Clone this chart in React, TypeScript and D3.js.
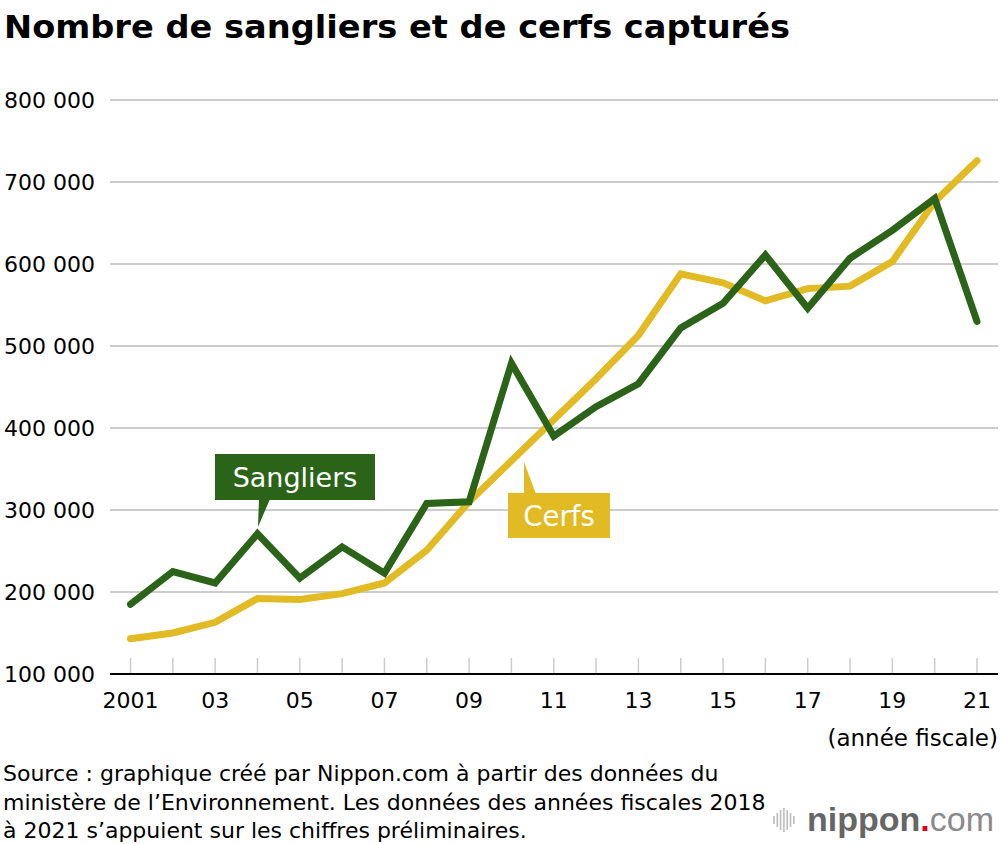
import React from "react";
import * as d3 from "d3";

// Fiscal years and captures
const years = d3.range(2001, 2022);
const sangliers = [
  185000, 225000, 211000, 271000, 217000, 255000, 223000, 308000, 310000, 479000, 390000,
  426000, 454000, 522000, 552000, 611000, 546000, 607000, 641000, 680000, 530000,
];
const cerfs = [
  143000, 150000, 163000, 192000, 191000, 198000, 211000, 251000, 310000, 360000, 410000,
  460000, 513000, 588000, 577000, 555000, 570000, 573000, 603000, 676000, 726000,
];
const yTicks = [100000, 200000, 300000, 400000, 500000, 600000, 700000, 800000];
const xTickLabels = ["2001", "03", "05", "07", "09", "11", "13", "15", "17", "19", "21"];
const sourceLines = [
  "Source : graphique créé par Nippon.com à partir des données du",
  "ministère de l’Environnement. Les données des années fiscales 2018",
  "à 2021 s’appuient sur les chiffres préliminaires.",
];

const GREEN = "#2b6419";
const YELLOW = "#e1ba24";
const FONT = "'DejaVu Sans', 'Liberation Sans', Arial, sans-serif";

const W = 1000;
const H = 844;

export default function App() {
  const x = d3.scaleLinear().domain([2001, 2021]).range([130.5, 977]);
  const y = d3.scaleLinear().domain([100000, 800000]).range([674, 100]);
  const fmt = (v: number) => d3.format(",")(v).replace(/,/g, " ");

  const line = d3
    .line<number>()
    .x((_, i) => x(years[i]))
    .y((d) => y(d));

  const gridLeft = 110;
  const gridRight = 998;

  return (
    <svg
      width={W}
      height={H}
      style={{ position: "absolute", left: 0, top: 0, background: "#fff" }}
      fontFamily={FONT}
    >
      <text x={4} y={38} fontSize={32} fontWeight="bold" fill="#000" textLength={786} lengthAdjust="spacingAndGlyphs">
        Nombre de sangliers et de cerfs capturés
      </text>

      {/* grid */}
      {yTicks.slice(1).map((t) => (
        <line key={t} x1={gridLeft} x2={gridRight} y1={y(t)} y2={y(t)} stroke="#cccccc" strokeWidth={2} />
      ))}
      {yTicks.map((t) => (
        <text key={"l" + t} x={95} y={y(t) + 8} fontSize={22} textAnchor="end" fill="#000">
          {fmt(t)}
        </text>
      ))}

      {/* x ticks */}
      {years.map((yr) => (
        <line key={yr} x1={x(yr)} x2={x(yr)} y1={658} y2={673} stroke="#cccccc" strokeWidth={1.5} />
      ))}
      <line x1={gridLeft} x2={gridRight} y1={y(100000)} y2={y(100000)} stroke="#000" strokeWidth={2} />
      {xTickLabels.map((lab, i) => (
        <text key={lab} x={x(2001 + i * 2)} y={708} fontSize={22} textAnchor="middle" fill="#000">
          {lab}
        </text>
      ))}
      <text x={998} y={746} fontSize={23} textAnchor="end" fill="#000">
        (année fiscale)
      </text>

      {/* series */}
      <path d={line(cerfs) ?? ""} fill="none" stroke={YELLOW} strokeWidth={7} strokeLinejoin="miter" strokeLinecap="round" />
      <path d={line(sangliers) ?? ""} fill="none" stroke={GREEN} strokeWidth={7} strokeLinejoin="miter" strokeLinecap="round" />

      {/* labels */}
      <g>
        <rect x={215} y={454} width={160} height={46} fill={GREEN} />
        <path d="M259,499 L270,499 L258,527 Z" fill={GREEN} />
        <text x={295} y={487} fontSize={27} textAnchor="middle" fill="#fff">
          Sangliers
        </text>
      </g>
      <g>
        <rect x={508} y={493} width={102} height={45} fill={YELLOW} />
        <path d="M524,494 L536,494 L524,462 Z" fill={YELLOW} />
        <text x={559} y={526} fontSize={27.5} textAnchor="middle" fill="#fff">
          Cerfs
        </text>
      </g>

      {/* source */}
      {sourceLines.map((s, i) => (
        <text key={i} x={3} y={781 + i * 28.5} fontSize={22} fill="#000">
          {s}
        </text>
      ))}

      {/* logo */}
      <g>
        {[0, 1, 2, 3, 4, 5, 6].map((i) => {
          const hs = [8, 14, 20, 24, 20, 14, 8];
          return (
            <line
              key={i}
              x1={774 + i * 3.3}
              x2={774 + i * 3.3}
              y1={820 - hs[i] / 2}
              y2={820 + hs[i] / 2}
              stroke="#bbbbbb"
              strokeWidth={1.6}
            />
          );
        })}
        <text x={807} y={831} fontSize={34} fill="#666666" fontFamily="'Liberation Sans', Arial, sans-serif">
          <tspan fontWeight="bold">nippon</tspan>
          <tspan fill="#e60012" fontWeight="bold">.</tspan>
          <tspan fontWeight="normal" fill="#8a8a8a">com</tspan>
        </text>
      </g>
    </svg>
  );
}
